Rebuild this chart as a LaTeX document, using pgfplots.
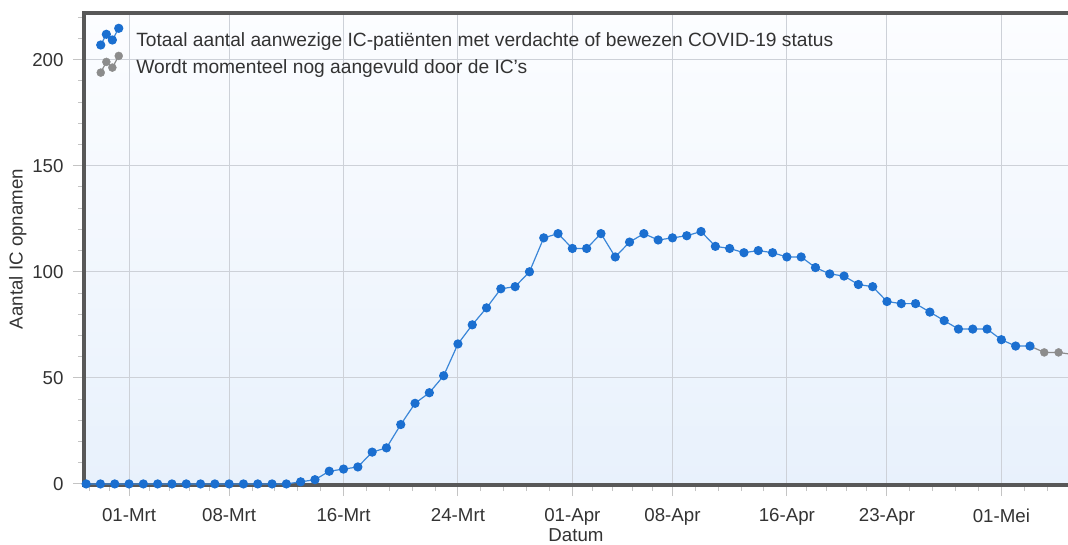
\documentclass[border=0pt]{standalone}
\usepackage{pgfplots}
\pgfplotsset{compat=1.18}
\usepackage{fontspec}
\setmainfont{Liberation Sans}
\definecolor{framec}{HTML}{585858}
\definecolor{gridc}{HTML}{CDD1D8}
\definecolor{tickc}{HTML}{C4C4C4}
\definecolor{labc}{HTML}{333333}
\definecolor{blueM}{HTML}{1B6FD0}
\definecolor{blueL}{HTML}{3A86D8}
\definecolor{greyM}{HTML}{8C8C8C}
\definecolor{bgtop}{HTML}{FCFDFF}
\definecolor{bgbot}{HTML}{E8F1FC}
\begin{document}
\begin{tikzpicture}[x=1pt,y=1pt]
\begin{axis}[
  set layers,
  at={(0,0)}, anchor=south west,
  width=984pt, height=472pt, scale only axis,
  xmin=-3.15, xmax=65.66, ymin=-0.5, ymax=222,
  axis line style={draw=none},
  axis background/.style={top color=bgtop, bottom color=bgbot},
  xtick={0,7,15,23,31,38,46,53,61},
  xticklabels={01-Mrt,08-Mrt,16-Mrt,24-Mrt,01-Apr,08-Apr,16-Apr,23-Apr,01-Mei},
  minor xtick={-2.8,-1.4,1.4,2.8,4.2,5.6,8.6,10.2,11.8,13.4,16.6,18.2,19.8,21.4,24.6,26.2,27.8,29.4,32.4,33.8,35.2,36.6,39.6,41.2,42.8,44.4,47.4,48.8,50.2,51.6,54.6,56.2,57.8,59.4,62.6,64.2},
  ytick={0,50,100,150,200},
  minor ytick={10,20,30,40,60,70,80,90,110,120,130,140,160,170,180,190,210,220},
  xmajorgrids, ymajorgrids,
  major grid style={gridc, line width=1pt},
  tick style={tickc, line width=1pt},
  tick align=outside,
  xtick pos=bottom, ytick pos=left,
  major tick length=11pt, minor tick length=6pt,
  /pgf/number format/assume math mode=true,
  tick label style={font=\fontsize{18.7}{22}\selectfont, text=labc},
  xticklabel style={yshift=-9pt},
  yticklabel style={xshift=-6pt},
  label style={font=\fontsize{18.7}{22}\selectfont, text=labc},
  xlabel={Datum},
  xlabel style={yshift=4pt},
  ylabel={Aantal IC opnamen},
  ylabel style={yshift=-1pt},
  clip mode=individual,
  legend style={at={(0.0091,0.982)}, anchor=north west, draw=none, fill=none,
    font=\fontsize{19.2}{22}\selectfont, text=labc, row sep=2pt},
  legend cell align=left,
]
\begin{pgfonlayer}{axis lines}
\draw[framec, line width=4pt] (rel axis cs:1.02,1) -- (rel axis cs:0,1) -- (rel axis cs:0,0) -- (rel axis cs:1.02,0);
\end{pgfonlayer}
\addplot[greyM, line width=1.2pt, forget plot] coordinates {(63,65) (64,62) (65,62) (66,61)};
\addplot[blueL, line width=1.2pt, mark=*, mark size=4pt, mark options={blueM, fill=blueM},
  legend image code/.code={
    \draw[blueL, line width=1.2pt] (0pt,-5pt) -- (5.6pt,5.7pt) -- (11.6pt,0pt) -- (18pt,11.7pt);
    \fill[blueM] (0pt,-5pt) circle (4pt) (5.6pt,5.7pt) circle (4pt) (11.6pt,0pt) circle (4pt) (18pt,11.7pt) circle (4pt);
    \path (33pt,0pt);
  }] table {
d v
-3 0
-2 0
-1 0
0 0
1 0
2 0
3 0
4 0
5 0
6 0
7 0
8 0
9 0
10 0
11 0
12 1
13 2
14 6
15 7
16 8
17 15
18 17
19 28
20 38
21 43
22 51
23 66
24 75
25 83
26 92
27 93
28 100
29 116
30 118
31 111
32 111
33 118
34 107
35 114
36 118
37 115
38 116
39 117
40 119
41 112
42 111
43 109
44 110
45 109
46 107
47 107
48 102
49 99
50 98
51 94
52 93
53 86
54 85
55 85
56 81
57 77
58 73
59 73
60 73
61 68
62 65
63 65
};
\addlegendentry{Totaal aantal aanwezige IC-patiënten met verdachte of bewezen COVID-19 status}
\addplot[only marks, mark=*, mark size=4pt, mark options={greyM, fill=greyM},
  legend image code/.code={
    \draw[greyM, line width=1.2pt] (0pt,-5pt) -- (5.6pt,5.7pt) -- (11.6pt,0pt) -- (18pt,11.7pt);
    \fill[greyM] (0pt,-5pt) circle (4pt) (5.6pt,5.7pt) circle (4pt) (11.6pt,0pt) circle (4pt) (18pt,11.7pt) circle (4pt);
    \path (33pt,0pt);
  }] coordinates {(64,62) (65,62)};
\addlegendentry{Wordt momenteel nog aangevuld door de IC's}
\end{axis}
\pgfresetboundingbox
\path[use as bounding box] (-84,-59) rectangle (984,485);
\end{tikzpicture}
\end{document}
